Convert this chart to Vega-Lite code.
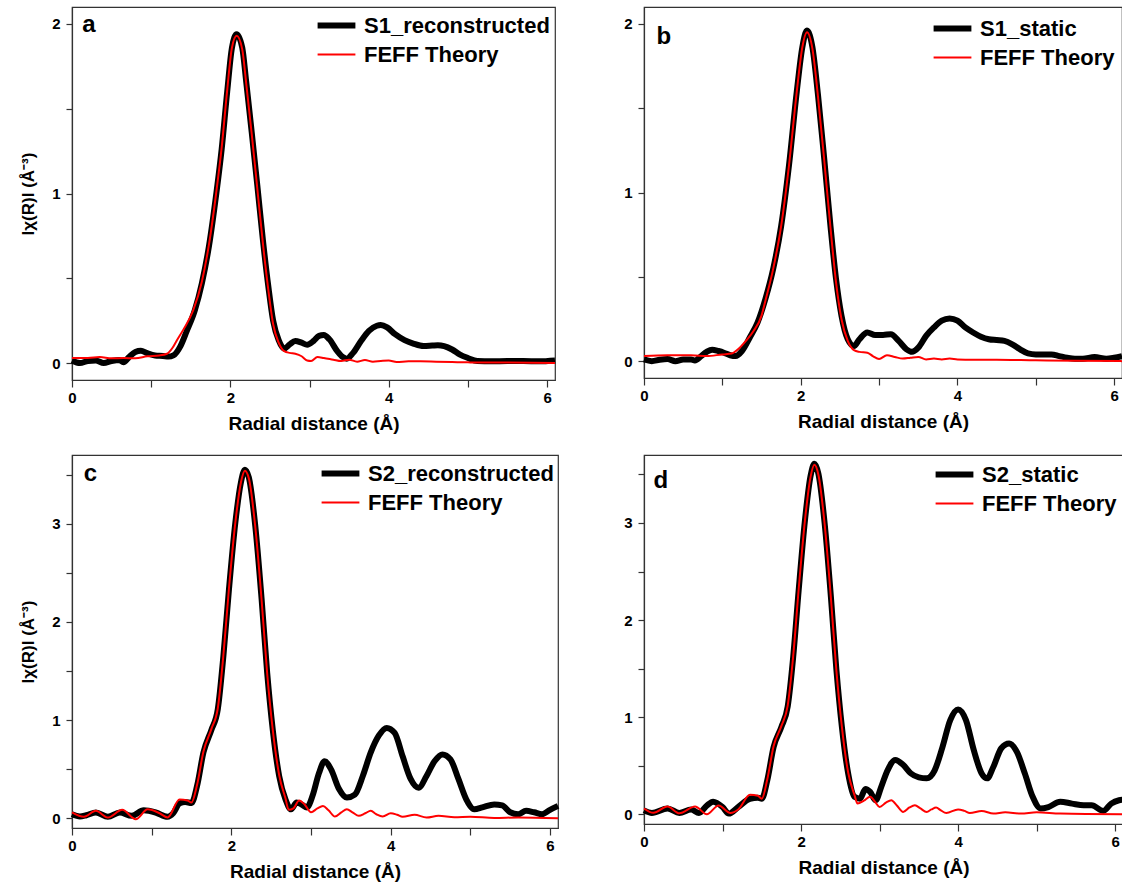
{
"$schema": "https://vega.github.io/schema/vega-lite/v6.json",
"background": "white",
"padding": {"left": 19, "top": 6, "right": 0, "bottom": 5},
"config": {
  "font": "Liberation Sans",
  "view": {"stroke": "#333", "strokeWidth": 1.2},
  "axis": {"labelFont": "Liberation Sans", "labelFontWeight": "bold", "labelFontSize": 15, "labelColor": "#000", "titleFont": "Liberation Sans", "titleFontWeight": "bold", "titleFontSize": 19, "titleColor": "#000", "domainColor": "#333", "domainWidth": 1.2, "tickColor": "#333", "tickWidth": 1.2, "grid": false, "labelFlush": false, "labelOverlap": false, "labelPadding": 3, "format": "d"},
  "axisX": {"titlePadding": 9},
  "axisY": {"titleFontSize": 17, "labelPadding": 6, "titlePadding": 14},
  "legend": {"labelFont": "Liberation Sans", "labelFontWeight": "bold", "labelFontSize": 22, "labelColor": "#000", "labelLimit": 0, "symbolType": "M-1.4,0H1.4", "symbolSize": 729, "labelOffset": 11, "rowPadding": 2, "orient": "none"}
},
"datasets": {
"curves": [
{"p":"a","s":"S1_reconstructed","r":0,"v":0.015},{"p":"a","s":"S1_reconstructed","r":0.1,"v":0.0},{"p":"a","s":"S1_reconstructed","r":0.2,"v":0.012},{"p":"a","s":"S1_reconstructed","r":0.3,"v":0.015},{"p":"a","s":"S1_reconstructed","r":0.4,"v":0.0},{"p":"a","s":"S1_reconstructed","r":0.5,"v":0.012},{"p":"a","s":"S1_reconstructed","r":0.6,"v":0.018},{"p":"a","s":"S1_reconstructed","r":0.65,"v":0.005},{"p":"a","s":"S1_reconstructed","r":0.72,"v":0.035},{"p":"a","s":"S1_reconstructed","r":0.8,"v":0.065},{"p":"a","s":"S1_reconstructed","r":0.87,"v":0.072},{"p":"a","s":"S1_reconstructed","r":0.95,"v":0.058},{"p":"a","s":"S1_reconstructed","r":1.05,"v":0.045},{"p":"a","s":"S1_reconstructed","r":1.15,"v":0.042},{"p":"a","s":"S1_reconstructed","r":1.22,"v":0.038},{"p":"a","s":"S1_reconstructed","r":1.28,"v":0.045},{"p":"a","s":"S1_reconstructed","r":1.37,"v":0.1},{"p":"a","s":"S1_reconstructed","r":1.45,"v":0.19},{"p":"a","s":"S1_reconstructed","r":1.55,"v":0.31},{"p":"a","s":"S1_reconstructed","r":1.64,"v":0.47},{"p":"a","s":"S1_reconstructed","r":1.73,"v":0.69},{"p":"a","s":"S1_reconstructed","r":1.82,"v":0.99},{"p":"a","s":"S1_reconstructed","r":1.89,"v":1.26},{"p":"a","s":"S1_reconstructed","r":1.96,"v":1.6},{"p":"a","s":"S1_reconstructed","r":2.02,"v":1.86},{"p":"a","s":"S1_reconstructed","r":2.08,"v":1.94},{"p":"a","s":"S1_reconstructed","r":2.15,"v":1.86},{"p":"a","s":"S1_reconstructed","r":2.2,"v":1.66},{"p":"a","s":"S1_reconstructed","r":2.27,"v":1.36},{"p":"a","s":"S1_reconstructed","r":2.34,"v":1.05},{"p":"a","s":"S1_reconstructed","r":2.41,"v":0.73},{"p":"a","s":"S1_reconstructed","r":2.48,"v":0.45},{"p":"a","s":"S1_reconstructed","r":2.54,"v":0.25},{"p":"a","s":"S1_reconstructed","r":2.61,"v":0.135},{"p":"a","s":"S1_reconstructed","r":2.68,"v":0.085},{"p":"a","s":"S1_reconstructed","r":2.75,"v":0.11},{"p":"a","s":"S1_reconstructed","r":2.82,"v":0.13},{"p":"a","s":"S1_reconstructed","r":2.9,"v":0.12},{"p":"a","s":"S1_reconstructed","r":2.97,"v":0.108},{"p":"a","s":"S1_reconstructed","r":3.05,"v":0.13},{"p":"a","s":"S1_reconstructed","r":3.12,"v":0.16},{"p":"a","s":"S1_reconstructed","r":3.18,"v":0.165},{"p":"a","s":"S1_reconstructed","r":3.25,"v":0.14},{"p":"a","s":"S1_reconstructed","r":3.35,"v":0.07},{"p":"a","s":"S1_reconstructed","r":3.42,"v":0.035},{"p":"a","s":"S1_reconstructed","r":3.47,"v":0.026},{"p":"a","s":"S1_reconstructed","r":3.55,"v":0.06},{"p":"a","s":"S1_reconstructed","r":3.65,"v":0.13},{"p":"a","s":"S1_reconstructed","r":3.75,"v":0.19},{"p":"a","s":"S1_reconstructed","r":3.85,"v":0.22},{"p":"a","s":"S1_reconstructed","r":3.9,"v":0.224},{"p":"a","s":"S1_reconstructed","r":3.98,"v":0.21},{"p":"a","s":"S1_reconstructed","r":4.08,"v":0.17},{"p":"a","s":"S1_reconstructed","r":4.2,"v":0.135},{"p":"a","s":"S1_reconstructed","r":4.31,"v":0.115},{"p":"a","s":"S1_reconstructed","r":4.44,"v":0.1},{"p":"a","s":"S1_reconstructed","r":4.55,"v":0.103},{"p":"a","s":"S1_reconstructed","r":4.62,"v":0.105},{"p":"a","s":"S1_reconstructed","r":4.7,"v":0.1},{"p":"a","s":"S1_reconstructed","r":4.8,"v":0.08},{"p":"a","s":"S1_reconstructed","r":4.9,"v":0.05},{"p":"a","s":"S1_reconstructed","r":5.0,"v":0.03},{"p":"a","s":"S1_reconstructed","r":5.12,"v":0.012},{"p":"a","s":"S1_reconstructed","r":5.3,"v":0.01},{"p":"a","s":"S1_reconstructed","r":5.5,"v":0.012},{"p":"a","s":"S1_reconstructed","r":5.7,"v":0.012},{"p":"a","s":"S1_reconstructed","r":5.9,"v":0.01},{"p":"a","s":"S1_reconstructed","r":6.1,"v":0.015},
{"p":"a","s":"FEFF Theory","r":0,"v":0.03},{"p":"a","s":"FEFF Theory","r":0.2,"v":0.03},{"p":"a","s":"FEFF Theory","r":0.35,"v":0.035},{"p":"a","s":"FEFF Theory","r":0.5,"v":0.028},{"p":"a","s":"FEFF Theory","r":0.65,"v":0.03},{"p":"a","s":"FEFF Theory","r":0.8,"v":0.028},{"p":"a","s":"FEFF Theory","r":0.95,"v":0.04},{"p":"a","s":"FEFF Theory","r":1.1,"v":0.045},{"p":"a","s":"FEFF Theory","r":1.2,"v":0.055},{"p":"a","s":"FEFF Theory","r":1.27,"v":0.09},{"p":"a","s":"FEFF Theory","r":1.32,"v":0.13},{"p":"a","s":"FEFF Theory","r":1.41,"v":0.2},{"p":"a","s":"FEFF Theory","r":1.53,"v":0.31},{"p":"a","s":"FEFF Theory","r":1.64,"v":0.48},{"p":"a","s":"FEFF Theory","r":1.73,"v":0.7},{"p":"a","s":"FEFF Theory","r":1.82,"v":1.0},{"p":"a","s":"FEFF Theory","r":1.89,"v":1.27},{"p":"a","s":"FEFF Theory","r":1.96,"v":1.61},{"p":"a","s":"FEFF Theory","r":2.02,"v":1.86},{"p":"a","s":"FEFF Theory","r":2.08,"v":1.93},{"p":"a","s":"FEFF Theory","r":2.15,"v":1.85},{"p":"a","s":"FEFF Theory","r":2.2,"v":1.65},{"p":"a","s":"FEFF Theory","r":2.27,"v":1.35},{"p":"a","s":"FEFF Theory","r":2.34,"v":1.03},{"p":"a","s":"FEFF Theory","r":2.41,"v":0.71},{"p":"a","s":"FEFF Theory","r":2.48,"v":0.43},{"p":"a","s":"FEFF Theory","r":2.54,"v":0.23},{"p":"a","s":"FEFF Theory","r":2.61,"v":0.12},{"p":"a","s":"FEFF Theory","r":2.68,"v":0.07},{"p":"a","s":"FEFF Theory","r":2.75,"v":0.06},{"p":"a","s":"FEFF Theory","r":2.82,"v":0.055},{"p":"a","s":"FEFF Theory","r":2.9,"v":0.04},{"p":"a","s":"FEFF Theory","r":2.97,"v":0.015},{"p":"a","s":"FEFF Theory","r":3.02,"v":0.012},{"p":"a","s":"FEFF Theory","r":3.1,"v":0.035},{"p":"a","s":"FEFF Theory","r":3.18,"v":0.03},{"p":"a","s":"FEFF Theory","r":3.3,"v":0.02},{"p":"a","s":"FEFF Theory","r":3.4,"v":0.012},{"p":"a","s":"FEFF Theory","r":3.5,"v":0.02},{"p":"a","s":"FEFF Theory","r":3.6,"v":0.008},{"p":"a","s":"FEFF Theory","r":3.7,"v":0.018},{"p":"a","s":"FEFF Theory","r":3.8,"v":0.008},{"p":"a","s":"FEFF Theory","r":3.9,"v":0.012},{"p":"a","s":"FEFF Theory","r":4.0,"v":0.015},{"p":"a","s":"FEFF Theory","r":4.1,"v":0.006},{"p":"a","s":"FEFF Theory","r":4.25,"v":0.01},{"p":"a","s":"FEFF Theory","r":4.4,"v":0.01},{"p":"a","s":"FEFF Theory","r":4.6,"v":0.008},{"p":"a","s":"FEFF Theory","r":4.8,"v":0.006},{"p":"a","s":"FEFF Theory","r":5.0,"v":0.004},{"p":"a","s":"FEFF Theory","r":5.5,"v":0.003},{"p":"a","s":"FEFF Theory","r":6.1,"v":0.0},
{"p":"b","s":"S1_static","r":0,"v":0.01},{"p":"b","s":"S1_static","r":0.1,"v":0.0},{"p":"b","s":"S1_static","r":0.2,"v":0.008},{"p":"b","s":"S1_static","r":0.3,"v":0.012},{"p":"b","s":"S1_static","r":0.4,"v":0.0},{"p":"b","s":"S1_static","r":0.5,"v":0.01},{"p":"b","s":"S1_static","r":0.6,"v":0.01},{"p":"b","s":"S1_static","r":0.65,"v":0.004},{"p":"b","s":"S1_static","r":0.73,"v":0.03},{"p":"b","s":"S1_static","r":0.8,"v":0.055},{"p":"b","s":"S1_static","r":0.87,"v":0.068},{"p":"b","s":"S1_static","r":0.95,"v":0.06},{"p":"b","s":"S1_static","r":1.02,"v":0.05},{"p":"b","s":"S1_static","r":1.1,"v":0.035},{"p":"b","s":"S1_static","r":1.17,"v":0.03},{"p":"b","s":"S1_static","r":1.25,"v":0.06},{"p":"b","s":"S1_static","r":1.35,"v":0.14},{"p":"b","s":"S1_static","r":1.45,"v":0.23},{"p":"b","s":"S1_static","r":1.55,"v":0.37},{"p":"b","s":"S1_static","r":1.65,"v":0.55},{"p":"b","s":"S1_static","r":1.75,"v":0.8},{"p":"b","s":"S1_static","r":1.85,"v":1.16},{"p":"b","s":"S1_static","r":1.95,"v":1.6},{"p":"b","s":"S1_static","r":2.02,"v":1.86},{"p":"b","s":"S1_static","r":2.08,"v":1.96},{"p":"b","s":"S1_static","r":2.15,"v":1.86},{"p":"b","s":"S1_static","r":2.22,"v":1.58},{"p":"b","s":"S1_static","r":2.3,"v":1.2},{"p":"b","s":"S1_static","r":2.38,"v":0.8},{"p":"b","s":"S1_static","r":2.45,"v":0.49},{"p":"b","s":"S1_static","r":2.52,"v":0.27},{"p":"b","s":"S1_static","r":2.6,"v":0.13},{"p":"b","s":"S1_static","r":2.68,"v":0.09},{"p":"b","s":"S1_static","r":2.75,"v":0.13},{"p":"b","s":"S1_static","r":2.85,"v":0.17},{"p":"b","s":"S1_static","r":2.95,"v":0.155},{"p":"b","s":"S1_static","r":3.05,"v":0.155},{"p":"b","s":"S1_static","r":3.15,"v":0.16},{"p":"b","s":"S1_static","r":3.25,"v":0.12},{"p":"b","s":"S1_static","r":3.35,"v":0.07},{"p":"b","s":"S1_static","r":3.42,"v":0.055},{"p":"b","s":"S1_static","r":3.5,"v":0.08},{"p":"b","s":"S1_static","r":3.6,"v":0.15},{"p":"b","s":"S1_static","r":3.7,"v":0.2},{"p":"b","s":"S1_static","r":3.8,"v":0.24},{"p":"b","s":"S1_static","r":3.9,"v":0.253},{"p":"b","s":"S1_static","r":4.0,"v":0.24},{"p":"b","s":"S1_static","r":4.1,"v":0.2},{"p":"b","s":"S1_static","r":4.2,"v":0.17},{"p":"b","s":"S1_static","r":4.3,"v":0.145},{"p":"b","s":"S1_static","r":4.4,"v":0.13},{"p":"b","s":"S1_static","r":4.5,"v":0.125},{"p":"b","s":"S1_static","r":4.6,"v":0.12},{"p":"b","s":"S1_static","r":4.7,"v":0.1},{"p":"b","s":"S1_static","r":4.8,"v":0.07},{"p":"b","s":"S1_static","r":4.9,"v":0.046},{"p":"b","s":"S1_static","r":5.0,"v":0.04},{"p":"b","s":"S1_static","r":5.2,"v":0.04},{"p":"b","s":"S1_static","r":5.3,"v":0.03},{"p":"b","s":"S1_static","r":5.4,"v":0.02},{"p":"b","s":"S1_static","r":5.5,"v":0.014},{"p":"b","s":"S1_static","r":5.6,"v":0.014},{"p":"b","s":"S1_static","r":5.75,"v":0.024},{"p":"b","s":"S1_static","r":5.9,"v":0.014},{"p":"b","s":"S1_static","r":6.0,"v":0.02},{"p":"b","s":"S1_static","r":6.1,"v":0.03},
{"p":"b","s":"FEFF Theory","r":0,"v":0.03},{"p":"b","s":"FEFF Theory","r":0.3,"v":0.035},{"p":"b","s":"FEFF Theory","r":0.6,"v":0.035},{"p":"b","s":"FEFF Theory","r":0.8,"v":0.03},{"p":"b","s":"FEFF Theory","r":1.0,"v":0.04},{"p":"b","s":"FEFF Theory","r":1.12,"v":0.045},{"p":"b","s":"FEFF Theory","r":1.2,"v":0.07},{"p":"b","s":"FEFF Theory","r":1.3,"v":0.12},{"p":"b","s":"FEFF Theory","r":1.4,"v":0.18},{"p":"b","s":"FEFF Theory","r":1.5,"v":0.27},{"p":"b","s":"FEFF Theory","r":1.55,"v":0.36},{"p":"b","s":"FEFF Theory","r":1.65,"v":0.55},{"p":"b","s":"FEFF Theory","r":1.75,"v":0.8},{"p":"b","s":"FEFF Theory","r":1.85,"v":1.16},{"p":"b","s":"FEFF Theory","r":1.95,"v":1.6},{"p":"b","s":"FEFF Theory","r":2.02,"v":1.86},{"p":"b","s":"FEFF Theory","r":2.08,"v":1.95},{"p":"b","s":"FEFF Theory","r":2.15,"v":1.85},{"p":"b","s":"FEFF Theory","r":2.22,"v":1.57},{"p":"b","s":"FEFF Theory","r":2.3,"v":1.19},{"p":"b","s":"FEFF Theory","r":2.38,"v":0.79},{"p":"b","s":"FEFF Theory","r":2.45,"v":0.47},{"p":"b","s":"FEFF Theory","r":2.52,"v":0.25},{"p":"b","s":"FEFF Theory","r":2.6,"v":0.12},{"p":"b","s":"FEFF Theory","r":2.68,"v":0.065},{"p":"b","s":"FEFF Theory","r":2.75,"v":0.055},{"p":"b","s":"FEFF Theory","r":2.85,"v":0.05},{"p":"b","s":"FEFF Theory","r":2.92,"v":0.03},{"p":"b","s":"FEFF Theory","r":3.0,"v":0.012},{"p":"b","s":"FEFF Theory","r":3.1,"v":0.035},{"p":"b","s":"FEFF Theory","r":3.2,"v":0.025},{"p":"b","s":"FEFF Theory","r":3.3,"v":0.015},{"p":"b","s":"FEFF Theory","r":3.4,"v":0.02},{"p":"b","s":"FEFF Theory","r":3.5,"v":0.025},{"p":"b","s":"FEFF Theory","r":3.6,"v":0.01},{"p":"b","s":"FEFF Theory","r":3.7,"v":0.015},{"p":"b","s":"FEFF Theory","r":3.8,"v":0.01},{"p":"b","s":"FEFF Theory","r":3.9,"v":0.015},{"p":"b","s":"FEFF Theory","r":4.0,"v":0.01},{"p":"b","s":"FEFF Theory","r":4.2,"v":0.008},{"p":"b","s":"FEFF Theory","r":4.5,"v":0.008},{"p":"b","s":"FEFF Theory","r":5.0,"v":0.005},{"p":"b","s":"FEFF Theory","r":5.5,"v":0.003},{"p":"b","s":"FEFF Theory","r":6.1,"v":0.0},
{"p":"c","s":"S2_reconstructed","r":0,"v":0.04},{"p":"c","s":"S2_reconstructed","r":0.1,"v":0.017},{"p":"c","s":"S2_reconstructed","r":0.18,"v":0.03},{"p":"c","s":"S2_reconstructed","r":0.3,"v":0.058},{"p":"c","s":"S2_reconstructed","r":0.45,"v":0.014},{"p":"c","s":"S2_reconstructed","r":0.6,"v":0.058},{"p":"c","s":"S2_reconstructed","r":0.75,"v":0.024},{"p":"c","s":"S2_reconstructed","r":0.9,"v":0.08},{"p":"c","s":"S2_reconstructed","r":1.05,"v":0.058},{"p":"c","s":"S2_reconstructed","r":1.2,"v":0.014},{"p":"c","s":"S2_reconstructed","r":1.27,"v":0.05},{"p":"c","s":"S2_reconstructed","r":1.35,"v":0.15},{"p":"c","s":"S2_reconstructed","r":1.42,"v":0.165},{"p":"c","s":"S2_reconstructed","r":1.5,"v":0.155},{"p":"c","s":"S2_reconstructed","r":1.57,"v":0.33},{"p":"c","s":"S2_reconstructed","r":1.65,"v":0.67},{"p":"c","s":"S2_reconstructed","r":1.75,"v":0.9},{"p":"c","s":"S2_reconstructed","r":1.83,"v":1.11},{"p":"c","s":"S2_reconstructed","r":1.9,"v":1.65},{"p":"c","s":"S2_reconstructed","r":1.97,"v":2.33},{"p":"c","s":"S2_reconstructed","r":2.05,"v":3.01},{"p":"c","s":"S2_reconstructed","r":2.12,"v":3.42},{"p":"c","s":"S2_reconstructed","r":2.17,"v":3.55},{"p":"c","s":"S2_reconstructed","r":2.22,"v":3.47},{"p":"c","s":"S2_reconstructed","r":2.3,"v":2.98},{"p":"c","s":"S2_reconstructed","r":2.38,"v":2.23},{"p":"c","s":"S2_reconstructed","r":2.45,"v":1.48},{"p":"c","s":"S2_reconstructed","r":2.52,"v":0.9},{"p":"c","s":"S2_reconstructed","r":2.6,"v":0.43},{"p":"c","s":"S2_reconstructed","r":2.68,"v":0.19},{"p":"c","s":"S2_reconstructed","r":2.75,"v":0.09},{"p":"c","s":"S2_reconstructed","r":2.82,"v":0.16},{"p":"c","s":"S2_reconstructed","r":2.88,"v":0.14},{"p":"c","s":"S2_reconstructed","r":2.95,"v":0.11},{"p":"c","s":"S2_reconstructed","r":3.02,"v":0.23},{"p":"c","s":"S2_reconstructed","r":3.1,"v":0.46},{"p":"c","s":"S2_reconstructed","r":3.17,"v":0.58},{"p":"c","s":"S2_reconstructed","r":3.25,"v":0.5},{"p":"c","s":"S2_reconstructed","r":3.35,"v":0.3},{"p":"c","s":"S2_reconstructed","r":3.45,"v":0.21},{"p":"c","s":"S2_reconstructed","r":3.55,"v":0.24},{"p":"c","s":"S2_reconstructed","r":3.65,"v":0.43},{"p":"c","s":"S2_reconstructed","r":3.75,"v":0.67},{"p":"c","s":"S2_reconstructed","r":3.85,"v":0.84},{"p":"c","s":"S2_reconstructed","r":3.95,"v":0.92},{"p":"c","s":"S2_reconstructed","r":4.05,"v":0.87},{"p":"c","s":"S2_reconstructed","r":4.15,"v":0.63},{"p":"c","s":"S2_reconstructed","r":4.25,"v":0.4},{"p":"c","s":"S2_reconstructed","r":4.35,"v":0.31},{"p":"c","s":"S2_reconstructed","r":4.45,"v":0.43},{"p":"c","s":"S2_reconstructed","r":4.55,"v":0.58},{"p":"c","s":"S2_reconstructed","r":4.65,"v":0.65},{"p":"c","s":"S2_reconstructed","r":4.75,"v":0.6},{"p":"c","s":"S2_reconstructed","r":4.85,"v":0.4},{"p":"c","s":"S2_reconstructed","r":4.95,"v":0.19},{"p":"c","s":"S2_reconstructed","r":5.05,"v":0.09},{"p":"c","s":"S2_reconstructed","r":5.15,"v":0.11},{"p":"c","s":"S2_reconstructed","r":5.3,"v":0.14},{"p":"c","s":"S2_reconstructed","r":5.4,"v":0.13},{"p":"c","s":"S2_reconstructed","r":5.5,"v":0.06},{"p":"c","s":"S2_reconstructed","r":5.6,"v":0.04},{"p":"c","s":"S2_reconstructed","r":5.7,"v":0.075},{"p":"c","s":"S2_reconstructed","r":5.8,"v":0.06},{"p":"c","s":"S2_reconstructed","r":5.9,"v":0.04},{"p":"c","s":"S2_reconstructed","r":6.0,"v":0.085},{"p":"c","s":"S2_reconstructed","r":6.1,"v":0.125},
{"p":"c","s":"FEFF Theory","r":0,"v":0.06},{"p":"c","s":"FEFF Theory","r":0.15,"v":0.014},{"p":"c","s":"FEFF Theory","r":0.3,"v":0.075},{"p":"c","s":"FEFF Theory","r":0.45,"v":0.007},{"p":"c","s":"FEFF Theory","r":0.63,"v":0.085},{"p":"c","s":"FEFF Theory","r":0.8,"v":-0.01},{"p":"c","s":"FEFF Theory","r":0.95,"v":0.09},{"p":"c","s":"FEFF Theory","r":1.1,"v":0.05},{"p":"c","s":"FEFF Theory","r":1.2,"v":0.007},{"p":"c","s":"FEFF Theory","r":1.35,"v":0.19},{"p":"c","s":"FEFF Theory","r":1.45,"v":0.18},{"p":"c","s":"FEFF Theory","r":1.5,"v":0.16},{"p":"c","s":"FEFF Theory","r":1.57,"v":0.34},{"p":"c","s":"FEFF Theory","r":1.65,"v":0.68},{"p":"c","s":"FEFF Theory","r":1.75,"v":0.91},{"p":"c","s":"FEFF Theory","r":1.83,"v":1.12},{"p":"c","s":"FEFF Theory","r":1.9,"v":1.66},{"p":"c","s":"FEFF Theory","r":1.97,"v":2.34},{"p":"c","s":"FEFF Theory","r":2.05,"v":3.01},{"p":"c","s":"FEFF Theory","r":2.12,"v":3.42},{"p":"c","s":"FEFF Theory","r":2.17,"v":3.54},{"p":"c","s":"FEFF Theory","r":2.22,"v":3.46},{"p":"c","s":"FEFF Theory","r":2.3,"v":2.97},{"p":"c","s":"FEFF Theory","r":2.38,"v":2.22},{"p":"c","s":"FEFF Theory","r":2.45,"v":1.47},{"p":"c","s":"FEFF Theory","r":2.52,"v":0.9},{"p":"c","s":"FEFF Theory","r":2.6,"v":0.44},{"p":"c","s":"FEFF Theory","r":2.68,"v":0.2},{"p":"c","s":"FEFF Theory","r":2.72,"v":0.085},{"p":"c","s":"FEFF Theory","r":2.78,"v":0.1},{"p":"c","s":"FEFF Theory","r":2.85,"v":0.18},{"p":"c","s":"FEFF Theory","r":2.92,"v":0.14},{"p":"c","s":"FEFF Theory","r":3.0,"v":0.06},{"p":"c","s":"FEFF Theory","r":3.08,"v":0.1},{"p":"c","s":"FEFF Theory","r":3.15,"v":0.125},{"p":"c","s":"FEFF Theory","r":3.22,"v":0.08},{"p":"c","s":"FEFF Theory","r":3.3,"v":0.017},{"p":"c","s":"FEFF Theory","r":3.38,"v":0.06},{"p":"c","s":"FEFF Theory","r":3.45,"v":0.09},{"p":"c","s":"FEFF Theory","r":3.52,"v":0.06},{"p":"c","s":"FEFF Theory","r":3.6,"v":0.024},{"p":"c","s":"FEFF Theory","r":3.68,"v":0.05},{"p":"c","s":"FEFF Theory","r":3.75,"v":0.075},{"p":"c","s":"FEFF Theory","r":3.82,"v":0.04},{"p":"c","s":"FEFF Theory","r":3.9,"v":0.017},{"p":"c","s":"FEFF Theory","r":4.0,"v":0.05},{"p":"c","s":"FEFF Theory","r":4.08,"v":0.035},{"p":"c","s":"FEFF Theory","r":4.15,"v":0.014},{"p":"c","s":"FEFF Theory","r":4.3,"v":0.034},{"p":"c","s":"FEFF Theory","r":4.45,"v":0.007},{"p":"c","s":"FEFF Theory","r":4.6,"v":0.024},{"p":"c","s":"FEFF Theory","r":4.8,"v":0.01},{"p":"c","s":"FEFF Theory","r":5.0,"v":0.014},{"p":"c","s":"FEFF Theory","r":5.3,"v":0.003},{"p":"c","s":"FEFF Theory","r":5.6,"v":0.007},{"p":"c","s":"FEFF Theory","r":6.1,"v":0.0},
{"p":"d","s":"S2_static","r":0,"v":0.04},{"p":"d","s":"S2_static","r":0.1,"v":0.014},{"p":"d","s":"S2_static","r":0.3,"v":0.06},{"p":"d","s":"S2_static","r":0.45,"v":0.014},{"p":"d","s":"S2_static","r":0.6,"v":0.05},{"p":"d","s":"S2_static","r":0.7,"v":0.014},{"p":"d","s":"S2_static","r":0.8,"v":0.09},{"p":"d","s":"S2_static","r":0.88,"v":0.13},{"p":"d","s":"S2_static","r":1.0,"v":0.075},{"p":"d","s":"S2_static","r":1.08,"v":0.007},{"p":"d","s":"S2_static","r":1.2,"v":0.075},{"p":"d","s":"S2_static","r":1.35,"v":0.16},{"p":"d","s":"S2_static","r":1.45,"v":0.17},{"p":"d","s":"S2_static","r":1.5,"v":0.16},{"p":"d","s":"S2_static","r":1.57,"v":0.35},{"p":"d","s":"S2_static","r":1.65,"v":0.69},{"p":"d","s":"S2_static","r":1.75,"v":0.9},{"p":"d","s":"S2_static","r":1.83,"v":1.11},{"p":"d","s":"S2_static","r":1.9,"v":1.62},{"p":"d","s":"S2_static","r":1.97,"v":2.31},{"p":"d","s":"S2_static","r":2.05,"v":3.03},{"p":"d","s":"S2_static","r":2.12,"v":3.48},{"p":"d","s":"S2_static","r":2.17,"v":3.61},{"p":"d","s":"S2_static","r":2.22,"v":3.51},{"p":"d","s":"S2_static","r":2.3,"v":3.0},{"p":"d","s":"S2_static","r":2.38,"v":2.24},{"p":"d","s":"S2_static","r":2.45,"v":1.49},{"p":"d","s":"S2_static","r":2.52,"v":0.9},{"p":"d","s":"S2_static","r":2.6,"v":0.42},{"p":"d","s":"S2_static","r":2.68,"v":0.18},{"p":"d","s":"S2_static","r":2.75,"v":0.16},{"p":"d","s":"S2_static","r":2.82,"v":0.26},{"p":"d","s":"S2_static","r":2.88,"v":0.23},{"p":"d","s":"S2_static","r":2.95,"v":0.145},{"p":"d","s":"S2_static","r":3.02,"v":0.28},{"p":"d","s":"S2_static","r":3.1,"v":0.45},{"p":"d","s":"S2_static","r":3.2,"v":0.56},{"p":"d","s":"S2_static","r":3.3,"v":0.51},{"p":"d","s":"S2_static","r":3.4,"v":0.42},{"p":"d","s":"S2_static","r":3.5,"v":0.38},{"p":"d","s":"S2_static","r":3.6,"v":0.37},{"p":"d","s":"S2_static","r":3.7,"v":0.45},{"p":"d","s":"S2_static","r":3.8,"v":0.69},{"p":"d","s":"S2_static","r":3.9,"v":0.97},{"p":"d","s":"S2_static","r":4.0,"v":1.08},{"p":"d","s":"S2_static","r":4.1,"v":0.97},{"p":"d","s":"S2_static","r":4.2,"v":0.66},{"p":"d","s":"S2_static","r":4.3,"v":0.42},{"p":"d","s":"S2_static","r":4.37,"v":0.37},{"p":"d","s":"S2_static","r":4.45,"v":0.49},{"p":"d","s":"S2_static","r":4.55,"v":0.68},{"p":"d","s":"S2_static","r":4.65,"v":0.73},{"p":"d","s":"S2_static","r":4.75,"v":0.64},{"p":"d","s":"S2_static","r":4.85,"v":0.42},{"p":"d","s":"S2_static","r":4.95,"v":0.18},{"p":"d","s":"S2_static","r":5.05,"v":0.06},{"p":"d","s":"S2_static","r":5.15,"v":0.075},{"p":"d","s":"S2_static","r":5.3,"v":0.13},{"p":"d","s":"S2_static","r":5.45,"v":0.11},{"p":"d","s":"S2_static","r":5.6,"v":0.093},{"p":"d","s":"S2_static","r":5.7,"v":0.093},{"p":"d","s":"S2_static","r":5.85,"v":0.035},{"p":"d","s":"S2_static","r":5.95,"v":0.11},{"p":"d","s":"S2_static","r":6.05,"v":0.145},{"p":"d","s":"S2_static","r":6.1,"v":0.15},
{"p":"d","s":"FEFF Theory","r":0,"v":0.06},{"p":"d","s":"FEFF Theory","r":0.12,"v":0.015},{"p":"d","s":"FEFF Theory","r":0.3,"v":0.08},{"p":"d","s":"FEFF Theory","r":0.45,"v":0.01},{"p":"d","s":"FEFF Theory","r":0.65,"v":0.08},{"p":"d","s":"FEFF Theory","r":0.8,"v":0.0},{"p":"d","s":"FEFF Theory","r":0.95,"v":0.09},{"p":"d","s":"FEFF Theory","r":1.1,"v":0.014},{"p":"d","s":"FEFF Theory","r":1.2,"v":0.05},{"p":"d","s":"FEFF Theory","r":1.35,"v":0.2},{"p":"d","s":"FEFF Theory","r":1.45,"v":0.19},{"p":"d","s":"FEFF Theory","r":1.5,"v":0.16},{"p":"d","s":"FEFF Theory","r":1.57,"v":0.36},{"p":"d","s":"FEFF Theory","r":1.65,"v":0.7},{"p":"d","s":"FEFF Theory","r":1.75,"v":0.91},{"p":"d","s":"FEFF Theory","r":1.83,"v":1.12},{"p":"d","s":"FEFF Theory","r":1.9,"v":1.63},{"p":"d","s":"FEFF Theory","r":1.97,"v":2.32},{"p":"d","s":"FEFF Theory","r":2.05,"v":3.03},{"p":"d","s":"FEFF Theory","r":2.12,"v":3.47},{"p":"d","s":"FEFF Theory","r":2.17,"v":3.6},{"p":"d","s":"FEFF Theory","r":2.22,"v":3.5},{"p":"d","s":"FEFF Theory","r":2.3,"v":2.99},{"p":"d","s":"FEFF Theory","r":2.38,"v":2.23},{"p":"d","s":"FEFF Theory","r":2.45,"v":1.48},{"p":"d","s":"FEFF Theory","r":2.52,"v":0.9},{"p":"d","s":"FEFF Theory","r":2.6,"v":0.43},{"p":"d","s":"FEFF Theory","r":2.68,"v":0.2},{"p":"d","s":"FEFF Theory","r":2.72,"v":0.11},{"p":"d","s":"FEFF Theory","r":2.8,"v":0.14},{"p":"d","s":"FEFF Theory","r":2.88,"v":0.18},{"p":"d","s":"FEFF Theory","r":2.95,"v":0.12},{"p":"d","s":"FEFF Theory","r":3.0,"v":0.075},{"p":"d","s":"FEFF Theory","r":3.08,"v":0.12},{"p":"d","s":"FEFF Theory","r":3.15,"v":0.145},{"p":"d","s":"FEFF Theory","r":3.22,"v":0.09},{"p":"d","s":"FEFF Theory","r":3.3,"v":0.024},{"p":"d","s":"FEFF Theory","r":3.38,"v":0.07},{"p":"d","s":"FEFF Theory","r":3.45,"v":0.093},{"p":"d","s":"FEFF Theory","r":3.52,"v":0.06},{"p":"d","s":"FEFF Theory","r":3.6,"v":0.024},{"p":"d","s":"FEFF Theory","r":3.66,"v":0.05},{"p":"d","s":"FEFF Theory","r":3.72,"v":0.07},{"p":"d","s":"FEFF Theory","r":3.78,"v":0.04},{"p":"d","s":"FEFF Theory","r":3.85,"v":0.014},{"p":"d","s":"FEFF Theory","r":4.0,"v":0.05},{"p":"d","s":"FEFF Theory","r":4.08,"v":0.035},{"p":"d","s":"FEFF Theory","r":4.15,"v":0.014},{"p":"d","s":"FEFF Theory","r":4.3,"v":0.035},{"p":"d","s":"FEFF Theory","r":4.45,"v":0.007},{"p":"d","s":"FEFF Theory","r":4.6,"v":0.02},{"p":"d","s":"FEFF Theory","r":4.8,"v":0.007},{"p":"d","s":"FEFF Theory","r":5.0,"v":0.02},{"p":"d","s":"FEFF Theory","r":5.3,"v":0.007},{"p":"d","s":"FEFF Theory","r":6.1,"v":0.0}
],
"letters": [
{"p":"a","letter":"a","r":0.13,"v":1.95},
{"p":"b","letter":"b","r":0.16,"v":1.88},
{"p":"c","letter":"c","r":0.146,"v":3.44},
{"p":"d","letter":"d","r":0.12,"v":3.36}
]
},
"columns": 2,
"spacing": {"row": 75, "column": 86},
"bounds": "flush",
"concat": [
{
"width": 483, "height": 373,
"layer": [
{"data": {"name": "curves"}, "transform": [{"filter": "datum.p === 'a'"}],
 "mark": {"type": "line", "interpolate": "monotone"},
 "encoding": {
  "x": {"field": "r", "type": "quantitative", "scale": {"domain": [0, 6.1], "nice": false, "zero": false}, "axis": {"title": "Radial distance (Å)", "values": [0,1,2,3,4,5,6], "labelExpr": "datum.value % 2 === 0 ? datum.label : ''", "tickSize": 7, "encode": {"ticks": {"update": {"y2": {"signal": "datum.value % 2 === 0 ? 7 : 4"}}}}}},
  "y": {"field": "v", "type": "quantitative", "scale": {"domain": [-0.1, 2.1], "nice": false, "zero": false}, "axis": {"title": "Iχ(R)I (Å⁻³)", "values": [0,0.5,1,1.5,2], "labelExpr": "datum.value % 1 === 0 ? datum.label : ''", "tickSize": 6, "encode": {"ticks": {"update": {"x2": {"signal": "datum.value % 1 === 0 ? -6 : -4"}}}}}},
  "color": {"field": "s", "type": "nominal", "sort": null, "scale": {"domain": ["S1_reconstructed", "FEFF Theory"], "range": ["#000000", "#ff0000"]}, "legend": {"title": null, "orient": "none", "legendX": 248, "legendY": 2, "encode": {"symbols": {"update": {"strokeWidth": {"signal": "datum.value === 'FEFF Theory' ? 2 : 6"}}}}}},
  "strokeWidth": {"field": "s", "type": "nominal", "scale": {"domain": ["S1_reconstructed", "FEFF Theory"], "range": [6, 2]}, "legend": null}
 }},
{"data": {"name": "letters"}, "transform": [{"filter": "datum.p === 'a'"}],
 "mark": {"type": "text", "font": "Liberation Sans", "fontSize": 24, "fontWeight": "bold", "align": "left", "baseline": "alphabetic", "color": "#000"},
 "encoding": {"x": {"field": "r", "type": "quantitative"}, "y": {"field": "v", "type": "quantitative"}, "text": {"field": "letter"}}}
],
"resolve": {"scale": {"color": "independent", "strokeWidth": "independent"}}
},
{
"width": 478, "height": 371,
"layer": [
{"data": {"name": "curves"}, "transform": [{"filter": "datum.p === 'b'"}],
 "mark": {"type": "line", "interpolate": "monotone"},
 "encoding": {
  "x": {"field": "r", "type": "quantitative", "scale": {"domain": [0, 6.1], "nice": false, "zero": false}, "axis": {"title": "Radial distance (Å)", "values": [0,1,2,3,4,5,6], "labelExpr": "datum.value % 2 === 0 ? datum.label : ''", "tickSize": 7, "encode": {"ticks": {"update": {"y2": {"signal": "datum.value % 2 === 0 ? 7 : 4"}}}}}},
  "y": {"field": "v", "type": "quantitative", "scale": {"domain": [-0.1, 2.1], "nice": false, "zero": false}, "axis": {"title": null, "values": [0,0.5,1,1.5,2], "labelExpr": "datum.value % 1 === 0 ? datum.label : ''", "tickSize": 6, "encode": {"ticks": {"update": {"x2": {"signal": "datum.value % 1 === 0 ? -6 : -4"}}}}}},
  "color": {"field": "s", "type": "nominal", "sort": null, "scale": {"domain": ["S1_static", "FEFF Theory"], "range": ["#000000", "#ff0000"]}, "legend": {"title": null, "orient": "none", "legendX": 292, "legendY": 5, "encode": {"symbols": {"update": {"strokeWidth": {"signal": "datum.value === 'FEFF Theory' ? 2 : 6"}}}}}},
  "strokeWidth": {"field": "s", "type": "nominal", "scale": {"domain": ["S1_static", "FEFF Theory"], "range": [6, 2]}, "legend": null}
 }},
{"data": {"name": "letters"}, "transform": [{"filter": "datum.p === 'b'"}],
 "mark": {"type": "text", "font": "Liberation Sans", "fontSize": 24, "fontWeight": "bold", "align": "left", "baseline": "alphabetic", "color": "#000"},
 "encoding": {"x": {"field": "r", "type": "quantitative"}, "y": {"field": "v", "type": "quantitative"}, "text": {"field": "letter"}}}
],
"resolve": {"scale": {"color": "independent", "strokeWidth": "independent"}}
},
{
"width": 486, "height": 373,
"layer": [
{"data": {"name": "curves"}, "transform": [{"filter": "datum.p === 'c'"}],
 "mark": {"type": "line", "interpolate": "monotone"},
 "encoding": {
  "x": {"field": "r", "type": "quantitative", "scale": {"domain": [0, 6.1], "nice": false, "zero": false}, "axis": {"title": "Radial distance (Å)", "values": [0,1,2,3,4,5,6], "labelExpr": "datum.value % 2 === 0 ? datum.label : ''", "tickSize": 7, "encode": {"ticks": {"update": {"y2": {"signal": "datum.value % 2 === 0 ? 7 : 4"}}}}}},
  "y": {"field": "v", "type": "quantitative", "scale": {"domain": [-0.1, 3.7], "nice": false, "zero": false}, "axis": {"title": "Iχ(R)I (Å⁻³)", "values": [0,0.5,1,1.5,2,2.5,3,3.5], "labelExpr": "datum.value % 1 === 0 ? datum.label : ''", "tickSize": 6, "encode": {"ticks": {"update": {"x2": {"signal": "datum.value % 1 === 0 ? -6 : -4"}}}}}},
  "color": {"field": "s", "type": "nominal", "sort": null, "scale": {"domain": ["S2_reconstructed", "FEFF Theory"], "range": ["#000000", "#ff0000"]}, "legend": {"title": null, "orient": "none", "legendX": 252, "legendY": 2, "encode": {"symbols": {"update": {"strokeWidth": {"signal": "datum.value === 'FEFF Theory' ? 2 : 6"}}}}}},
  "strokeWidth": {"field": "s", "type": "nominal", "scale": {"domain": ["S2_reconstructed", "FEFF Theory"], "range": [6, 2]}, "legend": null}
 }},
{"data": {"name": "letters"}, "transform": [{"filter": "datum.p === 'c'"}],
 "mark": {"type": "text", "font": "Liberation Sans", "fontSize": 24, "fontWeight": "bold", "align": "left", "baseline": "alphabetic", "color": "#000"},
 "encoding": {"x": {"field": "r", "type": "quantitative"}, "y": {"field": "v", "type": "quantitative"}, "text": {"field": "letter"}}}
],
"resolve": {"scale": {"color": "independent", "strokeWidth": "independent"}}
},
{
"width": 479, "height": 369,
"layer": [
{"data": {"name": "curves"}, "transform": [{"filter": "datum.p === 'd'"}],
 "mark": {"type": "line", "interpolate": "monotone"},
 "encoding": {
  "x": {"field": "r", "type": "quantitative", "scale": {"domain": [0, 6.1], "nice": false, "zero": false}, "axis": {"title": "Radial distance (Å)", "values": [0,1,2,3,4,5,6], "labelExpr": "datum.value % 2 === 0 ? datum.label : ''", "tickSize": 7, "encode": {"ticks": {"update": {"y2": {"signal": "datum.value % 2 === 0 ? 7 : 4"}}}}}},
  "y": {"field": "v", "type": "quantitative", "scale": {"domain": [-0.1, 3.7], "nice": false, "zero": false}, "axis": {"title": null, "values": [0,0.5,1,1.5,2,2.5,3,3.5], "labelExpr": "datum.value % 1 === 0 ? datum.label : ''", "tickSize": 6, "encode": {"ticks": {"update": {"x2": {"signal": "datum.value % 1 === 0 ? -6 : -4"}}}}}},
  "color": {"field": "s", "type": "nominal", "sort": null, "scale": {"domain": ["S2_static", "FEFF Theory"], "range": ["#000000", "#ff0000"]}, "legend": {"title": null, "orient": "none", "legendX": 294, "legendY": 3, "encode": {"symbols": {"update": {"strokeWidth": {"signal": "datum.value === 'FEFF Theory' ? 2 : 6"}}}}}},
  "strokeWidth": {"field": "s", "type": "nominal", "scale": {"domain": ["S2_static", "FEFF Theory"], "range": [6, 2]}, "legend": null}
 }},
{"data": {"name": "letters"}, "transform": [{"filter": "datum.p === 'd'"}],
 "mark": {"type": "text", "font": "Liberation Sans", "fontSize": 24, "fontWeight": "bold", "align": "left", "baseline": "alphabetic", "color": "#000"},
 "encoding": {"x": {"field": "r", "type": "quantitative"}, "y": {"field": "v", "type": "quantitative"}, "text": {"field": "letter"}}}
],
"resolve": {"scale": {"color": "independent", "strokeWidth": "independent"}}
}
],
"resolve": {"scale": {"x": "independent", "y": "independent", "color": "independent", "strokeWidth": "independent"}, "legend": {"color": "independent"}}
}
